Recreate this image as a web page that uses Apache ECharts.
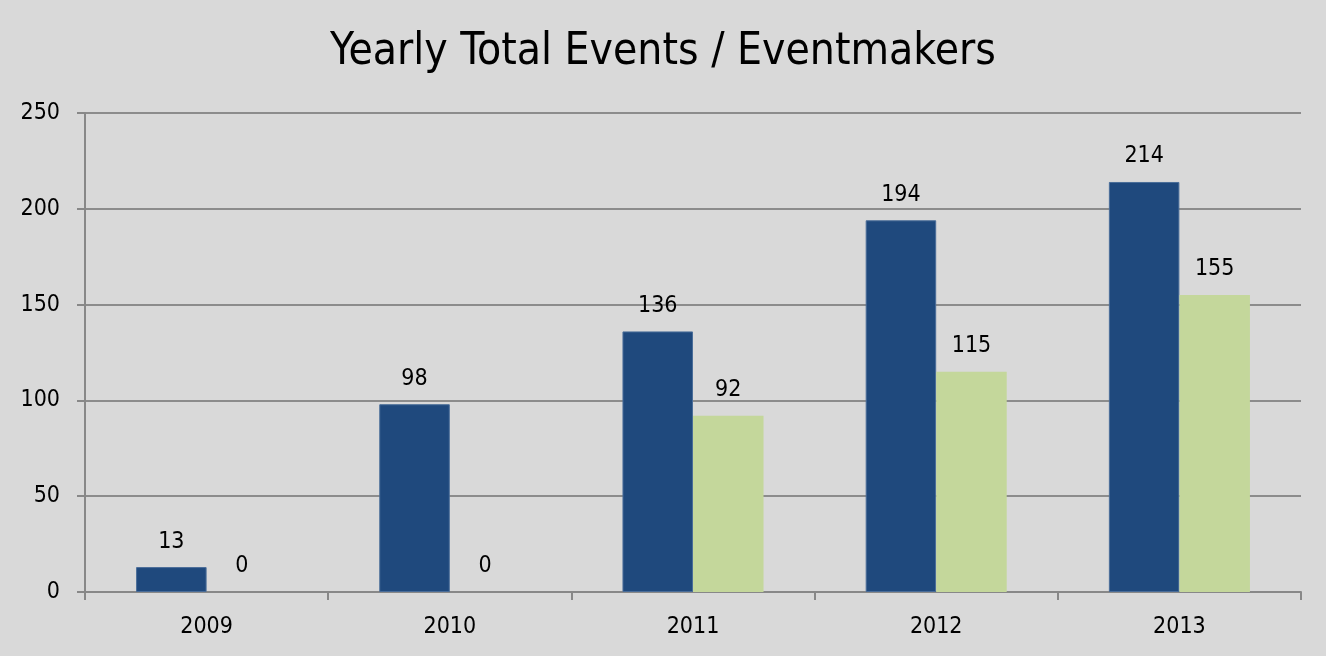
<!DOCTYPE html>
<html><head><meta charset="utf-8">
<script src="https://cdn.jsdelivr.net/npm/echarts@6/dist/echarts.min.js"></script>
<style>html,body{margin:0;padding:0;background:#d9d9d9}#c{width:1326px;height:656px}</style>
</head><body><div id="c"></div>
<script>
const categories = ['2009','2010','2011','2012','2013'];
const totalEvents = [13, 98, 136, 194, 214];
const eventmakers = [0, 0, 92, 115, 155];
const chart = echarts.init(document.getElementById('c'));
const font = '"DejaVu Sans Condensed", "Liberation Sans Narrow", sans-serif';
const lbl = {show:true, position:'top', distance:14, color:'#000', fontSize:23, fontFamily:font};
chart.setOption({
  backgroundColor:'#d9d9d9',
  animation:false,
  title:{text:'Yearly Total Events / Eventmakers', left:'center', top:26, textStyle:{fontFamily:font, fontSize:44, fontWeight:'normal', color:'#000'}},
  grid:{left:85, right:25, top:113, bottom:64},
  xAxis:{type:'category', data:categories,
    axisLine:{lineStyle:{color:'#888', width:2}},
    axisTick:{show:true, length:8, lineStyle:{color:'#888', width:2}},
    axisLabel:{color:'#000', fontSize:23, fontFamily:font, margin:24}},
  yAxis:{type:'value', min:0, max:250, interval:50,
    axisLine:{show:true, lineStyle:{color:'#888', width:2}},
    axisTick:{show:true, length:8, lineStyle:{color:'#888', width:2}},
    splitLine:{lineStyle:{color:'#8c8c8c', width:2}},
    axisLabel:{color:'#000', fontSize:23, fontFamily:font, margin:25}},
  series:[
    {name:'Total Events', type:'bar', data:totalEvents, barGap:'0%', barCategoryGap:'42%',
     itemStyle:{color:'#1f497d', borderColor:'#4a6d99', borderWidth:1}, label:lbl},
    {name:'Eventmakers', type:'bar', data:eventmakers,
     itemStyle:{color:'#c4d79b'}, label:lbl}
  ]
});
</script></body></html>
